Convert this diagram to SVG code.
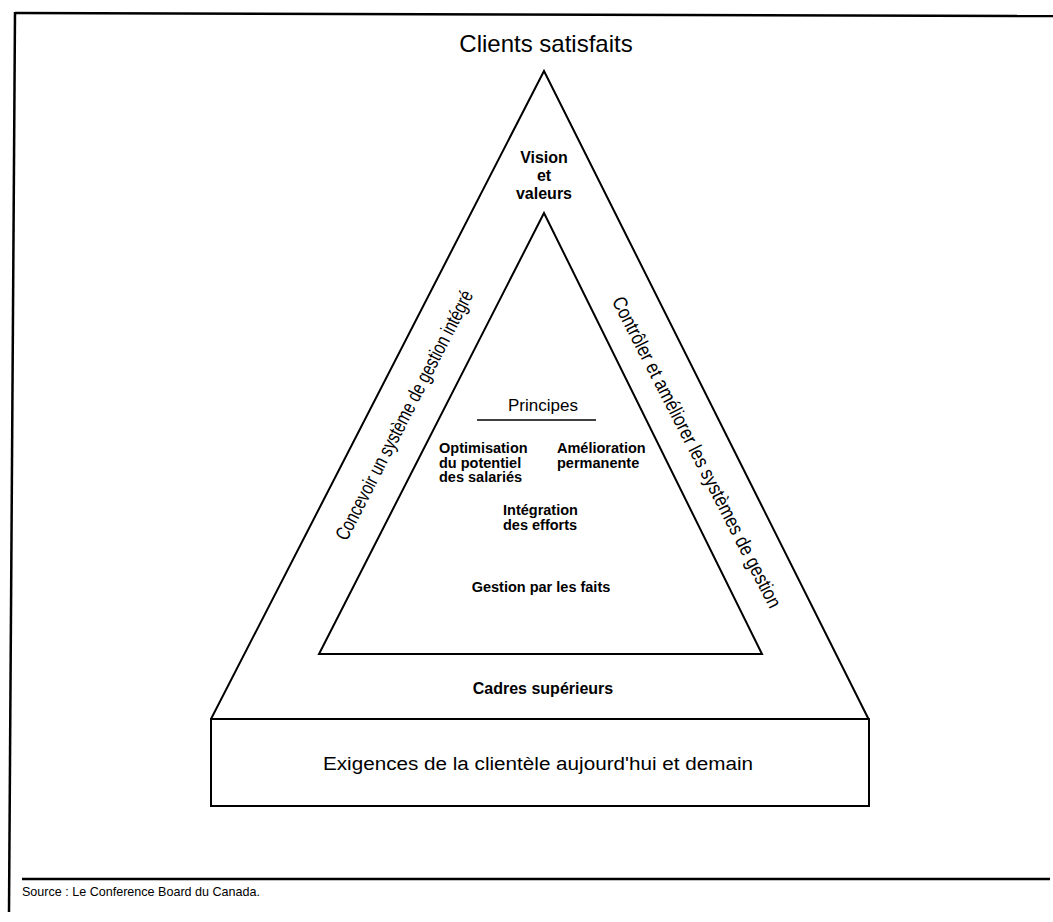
<svg xmlns="http://www.w3.org/2000/svg" width="1053" height="922" viewBox="0 0 1053 922">
  <style>
    .ln { fill: none; stroke: #000; stroke-width: 2; stroke-linejoin: miter; }
    .frame { fill: none; stroke: #000; stroke-width: 2.5; }
    .t { font-family: "Liberation Sans", Arial, sans-serif; fill: #000; }
    .b { font-weight: bold; }
    .mid { text-anchor: middle; }
  </style>
  <rect width="1053" height="922" fill="#fff"/>

  <!-- page frame and source rule -->
  <g id="frame">
    <line class="frame" x1="15" y1="13" x2="1053" y2="16"/>
    <line class="frame" x1="15" y1="12" x2="9" y2="912"/>
    <line class="frame" x1="22" y1="879" x2="1050" y2="879"/>
    <text class="t" x="22" y="896" font-size="13" textLength="238" lengthAdjust="spacingAndGlyphs">Source : Le Conference Board du Canada.</text>
  </g>

  <!-- outer pyramid -->
  <g id="outer-triangle">
    <polyline class="ln" points="211,719 544,71 869,720"/>
  </g>

  <!-- customer requirements base -->
  <g id="base">
    <rect class="ln" x="211" y="719" width="658" height="87"/>
    <text class="t mid" x="538" y="770" font-size="18" textLength="430" lengthAdjust="spacingAndGlyphs">Exigences de la clientèle aujourd'hui et demain</text>
  </g>

  <!-- inner pyramid -->
  <g id="inner-triangle">
    <polygon class="ln" points="544,213 319,654 762,654"/>
  </g>

  <g id="title">
    <text class="t mid" x="546" y="52" font-size="24">Clients satisfaits</text>
  </g>

  <g id="vision">
    <text class="t b mid" x="544" y="163" font-size="16">Vision</text>
    <text class="t b mid" x="544" y="181" font-size="16">et</text>
    <text class="t b mid" x="544" y="199" font-size="16">valeurs</text>
  </g>

  <g id="left-side">
    <text class="t mid" transform="translate(404,415) rotate(-62.8)" y="7" font-size="20" textLength="278" lengthAdjust="spacingAndGlyphs">Concevoir un système de gestion intégré</text>
  </g>

  <g id="right-side">
    <text class="t mid" transform="translate(697,452) rotate(62.8)" y="7" font-size="20" textLength="347" lengthAdjust="spacingAndGlyphs">Contrôler et améliorer les systèmes de gestion</text>
  </g>

  <g id="principles">
    <text class="t mid" x="543" y="411" font-size="17">Principes</text>
    <line x1="477" y1="420" x2="596" y2="420" stroke="#000" stroke-width="1.5"/>
    <text class="t b" font-size="14.5">
      <tspan x="439" y="453">Optimisation</tspan>
      <tspan x="439" y="467.5">du potentiel</tspan>
      <tspan x="439" y="482">des salariés</tspan>
    </text>
    <text class="t b" font-size="14.5">
      <tspan x="557" y="453">Amélioration</tspan>
      <tspan x="557" y="467.5">permanente</tspan>
    </text>
    <text class="t b" font-size="14.5">
      <tspan x="503" y="515">Intégration</tspan>
      <tspan x="503" y="530">des efforts</tspan>
    </text>
    <text class="t b mid" x="541" y="592" font-size="14.5">Gestion par les faits</text>
  </g>

  <g id="management">
    <text class="t b mid" x="543" y="694" font-size="16">Cadres supérieurs</text>
  </g>
</svg>
